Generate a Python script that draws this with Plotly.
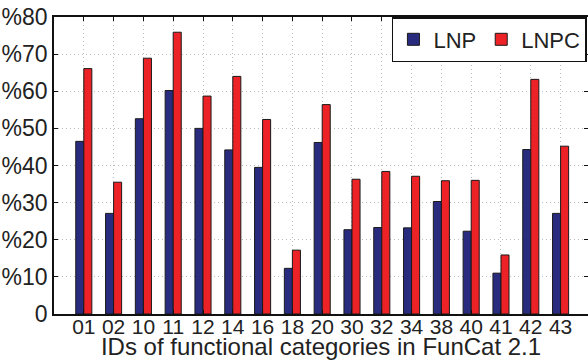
import plotly.graph_objects as go

categories = ["01", "02", "10", "11", "12", "14", "16", "18", "20",
              "30", "32", "34", "38", "40", "41", "42", "43"]
lnp = [46.5, 27.1, 52.6, 60.2, 50.0, 44.2, 39.5, 12.3, 46.2,
       22.7, 23.3, 23.2, 30.3, 22.3, 11.0, 44.3, 27.1]
lnpc = [66.1, 35.5, 68.9, 75.9, 58.7, 64.0, 52.4, 17.2, 56.4,
        36.3, 38.4, 37.1, 35.9, 36.0, 15.9, 63.2, 45.2]
y_ticks = [0, 10, 20, 30, 40, 50, 60, 70, 80]
y_ticktext = ["0", "%10", "%20", "%30", "%40", "%50", "%60", "%70", "%80"]

FONT = "Liberation Sans, Arial, sans-serif"
GRID = dict(showgrid=True, gridcolor="#bdbdbd", griddash="1px,3px", gridwidth=1)

fig = go.Figure()
fig.add_trace(go.Bar(x=categories, y=lnp, name="LNP",
                     marker=dict(color="#292C7E", line=dict(color="#1a1a1a", width=1))))
fig.add_trace(go.Bar(x=categories, y=lnpc, name="LNPC",
                     marker=dict(color="#EC2227", line=dict(color="#1a1a1a", width=1))))

fig.update_layout(
    width=588, height=360,
    margin=dict(l=54, r=0, t=17, b=46, autoexpand=False),
    paper_bgcolor="white", plot_bgcolor="white",
    barmode="group", bargap=0.46, bargroupgap=0,
    font=dict(family=FONT, color="#222"),
    legend=dict(orientation="h", x=0.998, xanchor="right", y=1.0, yanchor="top",
                bgcolor="white", bordercolor="#111", borderwidth=1.5,
                font=dict(size=22, family=FONT, color="#222"),
                tracegroupgap=0),
    xaxis=dict(type="category", range=[-1, 16.92], automargin=False,
               showline=True, linecolor="#111", linewidth=1.5, mirror="allticks",
               ticks="inside", ticklen=4, tickcolor="#111",
               ticklabelstandoff=-7,
               tickfont=dict(size=21, family=FONT, color="#222"),
               title=dict(text="IDs of functional categories in FunCat 2.1",
                          font=dict(size=24, family=FONT, color="#222"), standoff=7),
               **GRID),
    yaxis=dict(range=[0, 80], tickvals=y_ticks, ticktext=y_ticktext, automargin=False,
               showline=True, linecolor="#111", linewidth=1.5, mirror="allticks",
               ticks="inside", ticklen=4, tickcolor="#111",
               zeroline=False,
               tickfont=dict(size=23, family=FONT, color="#222"),
               **GRID),
)

fig.write_html("out.html", config={"displayModeBar": False},
               post_script="document.body.style.margin='0';document.body.style.overflow='hidden';")
